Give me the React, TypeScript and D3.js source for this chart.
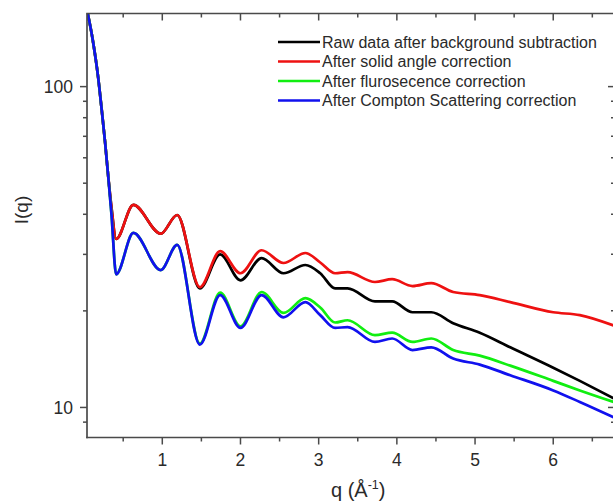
import React from "react";
import * as d3 from "d3";

// ---- data ----
const Q = [0.04, 0.11, 0.18, 0.225, 0.27, 0.31, 0.35, 0.41, 0.63, 0.98, 1.19, 1.48, 1.74, 2.0, 2.27, 2.55, 2.83, 3.02, 3.21, 3.37, 3.72, 3.94, 4.2, 4.44, 4.72, 5.06, 5.45, 6.0, 6.34, 6.8];
const RAW = [172, 140, 106.7, 84.7, 66.4, 52, 42, 33.5, 42.8, 34.8, 39.8, 23.5, 30.0, 24.9, 29.2, 26.2, 27.8, 26.2, 23.5, 23.5, 21.4, 21.4, 19.8, 19.8, 18.3, 17.1, 15.4, 13.3, 12.1, 10.6];
const SOLID = [172, 140, 106.7, 84.7, 66.4, 52, 42, 33.5, 42.8, 34.8, 39.8, 23.7, 30.7, 26.2, 30.9, 28.2, 30.3, 28.3, 26.2, 26.4, 24.6, 25.1, 23.9, 24.4, 22.9, 22.4, 21.3, 19.8, 19.4, 17.9];
const FLUO = [172, 140, 106.7, 84.7, 66.4, 52, 40, 26, 35, 26.8, 32.1, 15.8, 22.8, 17.9, 22.9, 19.7, 21.9, 20.5, 18.4, 18.7, 16.8, 17.1, 16.0, 16.4, 15.1, 14.5, 13.5, 12.1, 11.3, 10.35];
const COMPTON = [172, 140, 106.7, 84.7, 66.4, 52, 40, 26, 35, 26.8, 32.1, 15.7, 22.4, 17.7, 22.4, 19.1, 21.3, 19.4, 17.7, 17.8, 16.0, 16.4, 15.1, 15.4, 14.2, 13.6, 12.6, 11.3, 10.4, 9.25];

const SERIES_NAMES = [
  "Raw data after background subtraction",
  "After solid angle correction",
  "After flurosecence correction",
  "After Compton Scattering correction",
];
const SERIES_COLORS = ["#000000", "#ee1111", "#11ee11", "#1111ee"];
const SERIES_VALUES = [RAW, SOLID, FLUO, COMPTON];

const X_MAJOR = [1, 2, 3, 4, 5, 6];
const X_MINOR = [0.5, 1.5, 2.5, 3.5, 4.5, 5.5, 6.5];
const Y_MAJOR = [10, 100];
const Y_MINOR = [9, 20, 30, 40, 50, 60, 70, 80, 90];

const W = 613;
const H = 502;
const L = 87, R = 615, T = 13.5, B = 437.5;
const FONT = "Arial, 'Liberation Sans', sans-serif";
const AXIS = "#4a4a4a";
const TXT = "#2a2a2a";

export default function App() {
  const x = d3.scaleLinear().domain([0.037, 6.79]).range([L, R]);
  const y = d3.scaleLog().domain([8.06, 169]).range([B, T]);
  const line = d3
    .line<number>()
    .x((_, i) => x(Q[i]))
    .y((d) => y(d))
    .curve(d3.curveMonotoneX);

  const legendX0 = 278, legendX1 = 320, legendTextX = 322;
  const legendY = [42, 61.5, 81, 100.5];

  return (
    <svg
      width={W}
      height={H}
      style={{ position: "absolute", left: 0, top: 0, background: "#fff" }}
    >
      <rect x={0} y={0} width={W} height={H} fill="#fff" />
      <defs>
        <clipPath id="plot">
          <rect x={L} y={T} width={R - L} height={B - T} />
        </clipPath>
      </defs>
      <g clipPath="url(#plot)">
        {SERIES_VALUES.map((vals, k) => (
          <path
            key={k}
            d={line(vals) || ""}
            fill="none"
            stroke={SERIES_COLORS[k]}
            strokeWidth={2.7}
            strokeLinejoin="round"
          />
        ))}
      </g>
      {/* frame */}
      <g stroke={AXIS} strokeWidth={1.7} fill="none">
        <line x1={L} y1={T} x2={L} y2={B + 0.8} />
        <line x1={L - 0.8} y1={B} x2={R} y2={B} />
        <line x1={L - 0.8} y1={T} x2={R} y2={T} />
        <line x1={R} y1={T} x2={R} y2={B} />
      </g>
      {/* ticks */}
      <g stroke={AXIS} strokeWidth={1.5}>
        {X_MAJOR.map((v) => (
          <g key={"xm" + v}>
            <line x1={x(v)} x2={x(v)} y1={B} y2={B + 7} />
            <line x1={x(v)} x2={x(v)} y1={T} y2={T + 7} />
          </g>
        ))}
        {X_MINOR.map((v) => (
          <g key={"xn" + v}>
            <line x1={x(v)} x2={x(v)} y1={B} y2={B + 4} />
            <line x1={x(v)} x2={x(v)} y1={T} y2={T + 4} />
          </g>
        ))}
        {Y_MAJOR.map((v) => (
          <g key={"ym" + v}>
            <line x1={L - 7} x2={L} y1={y(v)} y2={y(v)} />
            <line x1={R - 7} x2={R} y1={y(v)} y2={y(v)} />
          </g>
        ))}
        {Y_MINOR.map((v) => (
          <g key={"yn" + v}>
            <line x1={L - 4} x2={L} y1={y(v)} y2={y(v)} />
            <line x1={R - 4} x2={R} y1={y(v)} y2={y(v)} />
          </g>
        ))}
      </g>
      {/* tick labels */}
      <g fontFamily={FONT} fontSize={17.5} fill={TXT}>
        {X_MAJOR.map((v) => (
          <text key={"xl" + v} x={x(v)} y={465.5} textAnchor="middle">
            {String(v)}
          </text>
        ))}
        {Y_MAJOR.map((v) => (
          <text key={"yl" + v} x={73} y={y(v) + 6.3} textAnchor="end">
            {String(v)}
          </text>
        ))}
      </g>
      {/* axis titles */}
      <text
        x={0}
        y={0}
        transform={`translate(28, 210) rotate(-90)`}
        textAnchor="middle"
        fontFamily={FONT}
        fontSize={19}
        fill={TXT}
      >
        I(q)
      </text>
      <text x={331} y={497} fontFamily={FONT} fontSize={20} fill={TXT}>
        q (Å
        <tspan fontSize={12.5} dy={-8.5}>-1</tspan>
        <tspan dy={8.5}>)</tspan>
      </text>
      {/* legend */}
      <g fontFamily={FONT} fontSize={16} fill={TXT}>
        {SERIES_NAMES.map((name, k) => (
          <g key={"lg" + k}>
            <line
              x1={legendX0}
              x2={legendX1}
              y1={legendY[k]}
              y2={legendY[k]}
              stroke={SERIES_COLORS[k]}
              strokeWidth={2.4}
            />
            <text x={legendTextX} y={legendY[k] + 5.6}>
              {name}
            </text>
          </g>
        ))}
      </g>
    </svg>
  );
}
